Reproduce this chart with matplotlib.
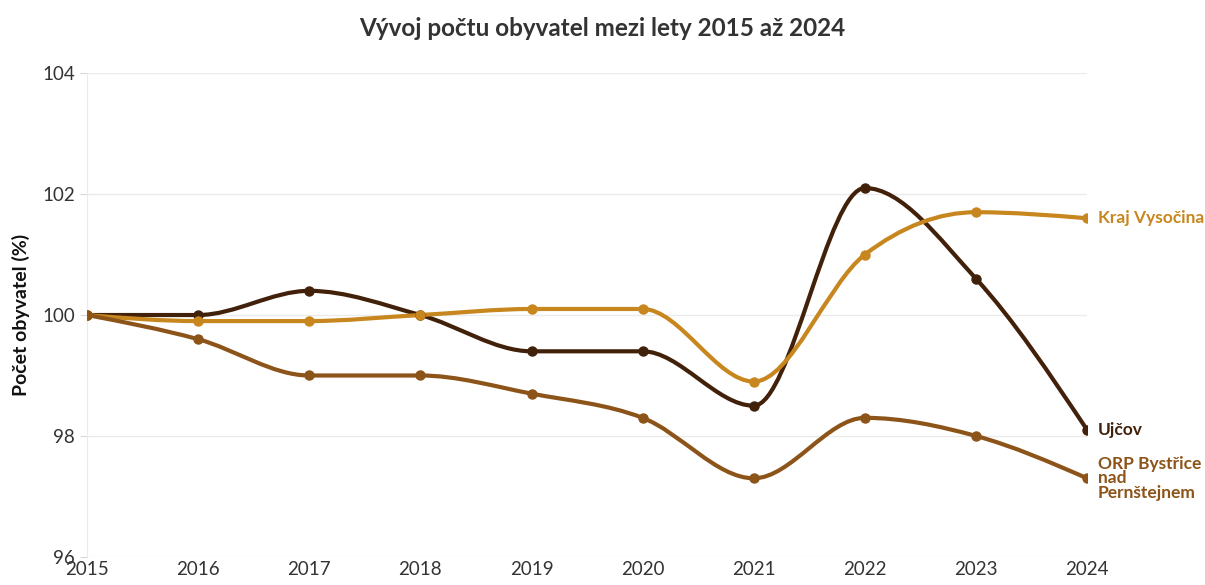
import numpy as np
import matplotlib
matplotlib.use('Agg')
import matplotlib.pyplot as plt
from matplotlib.path import Path
from matplotlib.patches import PathPatch

plt.rcParams['font.family'] = ['Lato', 'DejaVu Sans']

years = [2015, 2016, 2017, 2018, 2019, 2020, 2021, 2022, 2023, 2024]
ujcov = [100.0, 100.0, 100.4, 100.0, 99.4, 99.4, 98.5, 102.1, 100.6, 98.1]
kraj = [100.0, 99.9, 99.9, 100.0, 100.1, 100.1, 98.9, 101.0, 101.7, 101.6]
orp = [100.0, 99.6, 99.0, 99.0, 98.7, 98.3, 97.3, 98.3, 98.0, 97.3]

names = ['Ujčov', 'Kraj Vysočina', 'ORP Bystřice\nnad\nPernštejnem']
colors = ['#42210b', '#c8861e', '#8c5419']


def monotone_path(x, y):
    # monotone cubic (like d3 curveMonotoneX) as bezier path
    x = np.asarray(x, float)
    y = np.asarray(y, float)
    n = len(x)
    h = np.diff(x)
    s = np.diff(y) / h
    t = np.zeros(n)
    for i in range(1, n - 1):
        p = (s[i - 1] * h[i] + s[i] * h[i - 1]) / (h[i - 1] + h[i])
        t[i] = (np.sign(s[i - 1]) + np.sign(s[i])) * min(abs(s[i - 1]), abs(s[i]), 0.5 * abs(p))
    t[0] = (3 * s[0] - t[1]) / 2
    t[-1] = (3 * s[-1] - t[-2]) / 2
    verts = [(x[0], y[0])]
    codes = [Path.MOVETO]
    for i in range(n - 1):
        dx = h[i] / 3
        verts += [(x[i] + dx, y[i] + dx * t[i]),
                  (x[i + 1] - dx, y[i + 1] - dx * t[i + 1]),
                  (x[i + 1], y[i + 1])]
        codes += [Path.CURVE4] * 3
    return Path(verts, codes)


fig = plt.figure(figsize=(12.05, 5.85), dpi=100)
ax = fig.add_axes([0.0722, 0.048, 0.8300, 0.827])

for vals, name, c in [(ujcov, names[0], colors[0]), (kraj, names[1], colors[1]), (orp, names[2], colors[2])]:
    ax.add_patch(PathPatch(monotone_path(years, vals), fill=False, edgecolor=c, lw=3,
                           capstyle='round', zorder=3))
    ax.plot(years, vals, 'o', color=c, ms=6.5, zorder=4)
    ax.annotate(name, xy=(years[-1], vals[-1]), xytext=(7.5, 0), textcoords='offset points',
                va='center', ha='left', fontsize=12.5, fontweight='bold', color=c,
                linespacing=0.9, annotation_clip=False)

ax.set_xlim(2015, 2024)
ax.set_ylim(96, 104)
ax.set_xticks(years)
ax.set_yticks([96, 98, 100, 102, 104])
ax.grid(axis='y', color='#ebebeb', lw=1)
ax.set_axisbelow(True)
for sp in ['top', 'right', 'bottom']:
    ax.spines[sp].set_visible(False)
ax.spines['left'].set_color('#ebebeb')
ax.tick_params(axis='both', colors='#d8d8d8', labelcolor='#333333', labelsize=13.5, length=5)
ax.tick_params(axis='x', length=0, pad=3)
ax.set_ylabel('Počet obyvatel (%)', fontsize=14, fontweight='bold', color='#111111', labelpad=9)

fig.text(0.5, 0.952, 'Vývoj počtu obyvatel mezi lety 2015 až 2024', ha='center', va='center',
         fontsize=17.5, fontweight='bold', color='#333333')

fig.savefig('out.png', dpi=100)
